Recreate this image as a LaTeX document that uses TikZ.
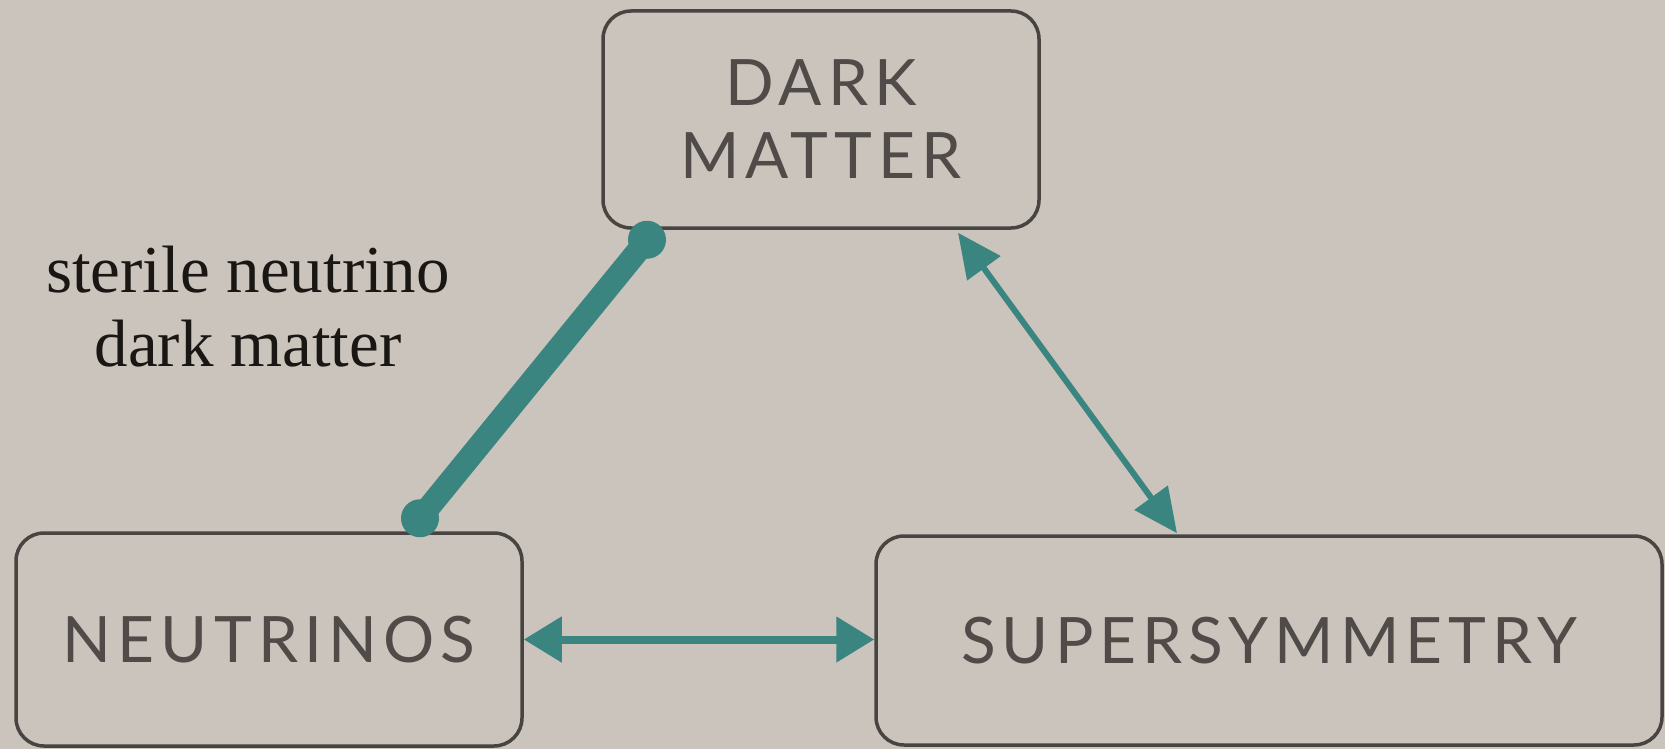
\documentclass[tikz,border=0pt]{standalone}
\usepackage{fontspec}
\setmainfont{Liberation Serif}
\newfontfamily\boxfont[LetterSpace=9.5]{Lato}
\usetikzlibrary{arrows.meta,calc}
\definecolor{bg}{RGB}{203,196,188}
\definecolor{tealc}{RGB}{58,133,128}
\definecolor{boxline}{RGB}{72,68,65}
\definecolor{boxtext}{RGB}{80,75,72}
\definecolor{labeltext}{RGB}{25,22,20}
\tikzset{
  box/.style={draw=boxline, line width=3.5pt, rounded corners=28pt, text=boxtext,
    font=\boxfont\fontsize{64}{73}\selectfont, align=center, inner sep=0pt},
  thickline/.style={draw=tealc, line width=23pt, line cap=round},
  blob/.style={fill=tealc},
  dblarrow/.style={draw=tealc, {Triangle[length=44pt,width=40pt]}-{Triangle[length=44pt,width=40pt]}},
  lbl/.style={text=labeltext, font=\fontsize{67}{74}\selectfont, align=center, inner sep=0pt}
}
\begin{document}
\begin{tikzpicture}[x=1pt,y=-1pt]
\fill[bg] (0,0) rectangle (1665,749);
\useasboundingbox (0,0) rectangle (1665,749);

\node[box, minimum width=436pt, minimum height=217pt] (DM) at (821,119.5) {DARK\\MATTER};
\node[box, minimum width=506pt, minimum height=213pt] (NE) at (269,639.5) {NEUTRINOS};
\node[box, minimum width=786pt, minimum height=209pt] (SU) at (1269,640.5) {SUPERSYMMETRY};

\node[lbl] (L) at (248,307) {sterile neutrino\\dark matter};

\coordinate (a1) at ([xshift=151pt,yshift=13pt]NE.north);
\coordinate (a2) at ([xshift=-174pt,yshift=-10pt]DM.south);
\draw[thickline] (a1) -- (a2);
\fill[blob] (a1) circle[radius=19pt];
\fill[blob] (a2) circle[radius=19pt];

\draw[dblarrow, line width=6pt] ([xshift=137pt,yshift=-3pt]DM.south) -- ([xshift=-92pt,yshift=1pt]SU.north);
\draw[tealc, line width=8pt, {Triangle[length=38pt,width=44pt]}-{Triangle[length=38pt,width=44pt]}] (NE.east) -- (NE.east -| SU.west);
\end{tikzpicture}
\end{document}
